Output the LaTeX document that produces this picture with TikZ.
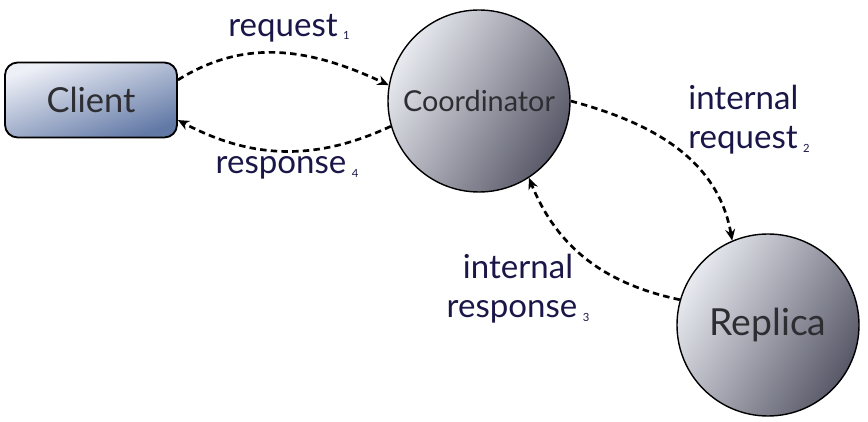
\documentclass[tikz,border=0pt]{standalone}
\usepackage{fontspec}
\setmainfont{Lato}
\usepackage{tikz}
\usepackage{xcolor}
\usetikzlibrary{arrows.meta,positioning,shapes.geometric}
\definecolor{labelnavy}{RGB}{26, 22, 72}
\definecolor{nodetext}{RGB}{45, 45, 50}
\definecolor{clientlight}{RGB}{238, 240, 247}
\definecolor{clientdark}{RGB}{98, 121, 166}
\definecolor{discLight}{RGB}{232, 234, 240}
\definecolor{discDark}{RGB}{88, 88, 104}
\tikzset{
  msg/.style={dashed, dash pattern=on 4.6pt off 3pt, line width=1.9pt,
    -{Stealth[length=8pt,width=7pt]}},
  lbl/.style={text=labelnavy, font=\fontsize{23.5}{27.5}\selectfont, inner sep=0pt},
  disc/.style={circle, draw, line width=1pt, minimum size=182*0.025cm,
    left color=discLight, right color=discDark, shading angle=60,
    text=nodetext, inner sep=0pt}
}
\newcommand{\idx}[1]{\,\raisebox{-0.2ex}{\fontsize{8}{8}\selectfont #1}}
\begin{document}
\begin{tikzpicture}[x=0.025cm,y=0.025cm]
  \useasboundingbox (0,0) rectangle (868,421);
  % the three parties
  \node[draw, line width=1.3pt, rounded corners=9pt,
    minimum width=172*0.025cm, minimum height=75*0.025cm,
    left color=clientlight, right color=clientdark, shading angle=20,
    text=nodetext, font=\fontsize{24.5}{28}\selectfont] (client) at (91,321) {Client};
  \node[disc, font=\fontsize{20.5}{24}\selectfont] (coord) at (479,320) {Coordinator};
  \node[disc, font=\fontsize{26.5}{30}\selectfont] (replica) at (768,96) {Replica};
  % messages
  \draw[msg] (client.13) to[out=32,in=155] (coord.170);
  \draw[msg] (coord.196) to[out=205,in=-28] (client.-13);
  \draw[msg] (coord.0) to[out=-15,in=100] (replica.113);
  \draw[msg] (replica.164) to[out=168,in=-68] (coord.-57);
  % labels
  \node[lbl] (reqlbl) at (289,393) {request\idx{1}};
  \node[lbl] (resplbl) at (287,253) {response\idx{4}};
  \node[lbl, align=left] (ireqlbl) at (749,301) {internal\\request\idx{2}};
  \node[lbl, align=center] (iresplbl) at (518,132) {internal\\response\idx{3}};
\end{tikzpicture}
\end{document}
